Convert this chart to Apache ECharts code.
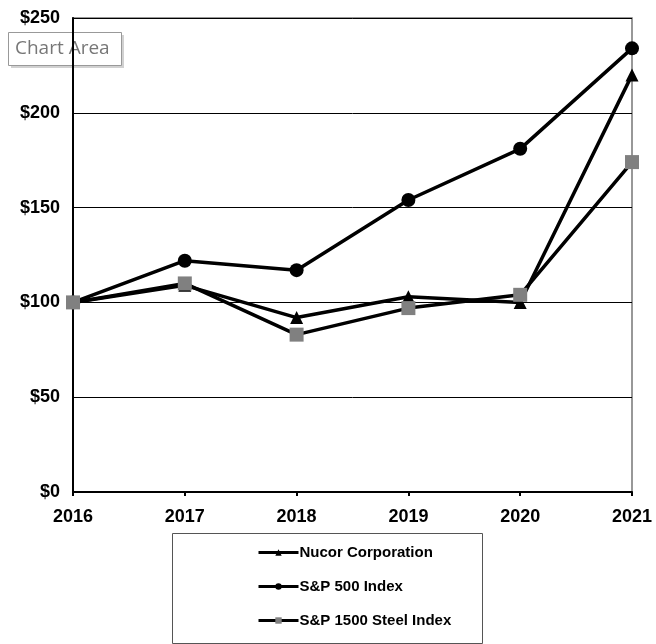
<!DOCTYPE html>
<html>
<head>
<meta charset="utf-8">
<script src="https://cdn.jsdelivr.net/npm/echarts@6/dist/echarts.min.js"></script>
<style>html,body{margin:0;padding:0;background:#fff;}#c{width:656px;height:644px;}</style>
</head>
<body>
<div id="c"></div>
<script>
const years = ['2016','2017','2018','2019','2020','2021'];
const nucor = [100, 109, 92, 103, 100, 220];
const sp500 = [100, 122, 117, 154, 181, 234];
const steel = [100, 110, 83, 97, 104, 174];
const yTicks = [0, 50, 100, 150, 200, 250];

const chart = echarts.init(document.getElementById('c'));
const font = 'Liberation Sans, Arial, sans-serif';
chart.setOption({
  animation: false,
  backgroundColor: '#fff',
  grid: { left: 73, right: 24, top: 18, bottom: 152, show: true, borderColor: '#777', borderWidth: 1.5, backgroundColor: 'transparent' },
  xAxis: {
    type: 'category', data: years, boundaryGap: false,
    axisLine: { lineStyle: { color: '#000', width: 2 } },
    axisTick: { show: true, inside: false, length: 4, lineStyle: { color: '#000', width: 2 } },
    axisLabel: { color: '#000', fontFamily: font, fontWeight: 'bold', fontSize: 18, margin: 16, showMaxLabel: true },
    splitLine: { show: false }
  },
  yAxis: {
    type: 'value', min: yTicks[0], max: yTicks[yTicks.length-1], interval: 50,
    axisLine: { show: true, lineStyle: { color: '#000', width: 2 } },
    axisTick: { show: false },
    axisLabel: { color: '#000', fontFamily: font, fontWeight: 'bold', fontSize: 18, margin: 13, formatter: v => '$' + v },
    splitLine: { show: true, lineStyle: { color: '#000', width: 1 } }
  },
  legend: {
    orient: 'vertical', left: 252, top: 540, height: 110, itemGap: 19, itemWidth: 40, itemHeight: 8,
    padding: [5, 5, 0, 5],
    textStyle: { color: '#000', fontFamily: font, fontWeight: 'bold', fontSize: 15, padding: [0,0,0,-4] },
    lineStyle: { width: 3 },
    data: ['Nucor Corporation', 'S&P 500 Index', 'S&P 1500 Steel Index']
  },
  series: [
    { name: 'Nucor Corporation', type: 'line', data: nucor, symbol: 'triangle', symbolSize: 13,
      lineStyle: { color: '#000', width: 3.5 }, itemStyle: { color: '#000' }, z: 3 },
    { name: 'S&P 500 Index', type: 'line', data: sp500, symbol: 'circle', symbolSize: 14,
      lineStyle: { color: '#000', width: 3.5 }, itemStyle: { color: '#000' }, z: 3 },
    { name: 'S&P 1500 Steel Index', type: 'line', data: steel, symbol: 'rect', symbolSize: 14,
      lineStyle: { color: '#000', width: 3.5 }, itemStyle: { color: '#808080' }, z: 4 }
  ],
  graphic: [
    { type: 'rect', shape: { x: 172.5, y: 533.5, width: 310, height: 110 }, style: { fill: 'none', stroke: '#555', lineWidth: 1 }, z: 0 },
    { type: 'group', left: 8, top: 32, z: 100, children: [
      { type: 'rect', shape: { x: 3, y: 3, width: 113, height: 33 }, style: { fill: 'rgba(0,0,0,0.18)' } },
      { type: 'rect', shape: { x: 0.5, y: 0.5, width: 113, height: 33 }, style: { fill: '#fff', stroke: '#999', lineWidth: 1 } },
      { type: 'text', x: 7, y: 7, style: { text: 'Chart Area', fill: '#777', fontFamily: 'Open Sans, DejaVu Sans, sans-serif', fontSize: 19 } }
    ]}
  ]
});
</script>
</body>
</html>
